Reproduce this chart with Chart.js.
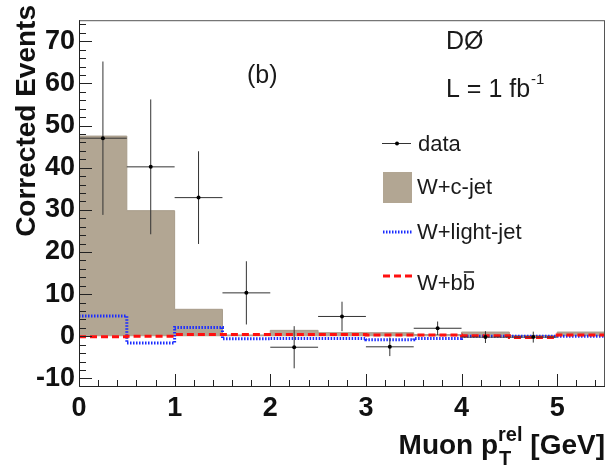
<!DOCTYPE html>
<html>
<head>
<meta charset="utf-8">
<script src="https://cdn.jsdelivr.net/npm/chart.js@4.4.1/dist/chart.umd.min.js"></script>
<style>
  html, body { margin: 0; padding: 0; background: #fff; }
  canvas { display: block; }
</style>
</head>
<body>
<canvas id="chart" width="609" height="467"></canvas>
<script>
// bin edges of the histograms (GeV)
const binEdges = [0, 0.5, 1, 1.5, 2, 2.5, 3, 3.5, 4, 4.5, 5, 5.5];

// histogram contents per bin
const wcJet    = [47.5, 29.8, 6.4, 0.3, 1.4, 0.85, 0.85, 0.4, 1.0, 0.2, 1.0];
const wLight   = [4.8, -1.6, 2.1, -0.6, -0.5, -0.5, -0.8, -0.5, 0.0, 0.0, 0.0];
const wbb      = [-0.1, 0.0, 0.4, 0.4, 0.4, 0.4, 0.3, 0.3, 0.1, -0.3, 0.3];

// data points with errors
const dataX    = [0.25, 0.75, 1.25, 1.75, 2.25, 2.75, 3.25, 3.75, 4.25, 4.75];
const dataY    = [47.0, 40.2, 32.9, 10.3, -2.6, 4.7, -2.5, 1.9, -0.2, -0.2];
const dataErr  = [18.2, 16.0, 11.0, 7.5, 5.0, 3.5, 2.2, 1.6, 1.4, 1.3];
const dataXErr = 0.25;

// axis ticks
const xTickValues = [0, 1, 2, 3, 4, 5];
const yTickValues = [-10, 0, 10, 20, 30, 40, 50, 60, 70];

const FONT = "'Liberation Sans', Arial, Helvetica, sans-serif";
const TAN = '#b2a693';
const BLUE = '#1a2cff';
const RED = '#ff1010';

// histogram as step points: left edge of each bin + last right edge
function stepPoints(vals) {
    const pts = vals.map((v, i) => ({ x: binEdges[i], y: v }));
    pts.push({ x: binEdges[vals.length], y: vals[vals.length - 1] });
    return pts;
}

// error bar segments, null breaks between points
function errorSegments() {
    const pts = [];
    dataX.forEach((x, i) => {
        const y = dataY[i], e = dataErr[i];
        pts.push({ x: x, y: y - e }, { x: x, y: y + e }, { x: x, y: null });
        pts.push({ x: x - dataXErr, y: y }, { x: x + dataXErr, y: y }, { x: x, y: null });
    });
    return pts;
}

// frame, inside ticks, titles, legend and labels in ROOT style
const rootStyle = {
    id: 'rootStyle',
    afterDatasetsDraw(chart) {
        const ctx = chart.ctx;
        const a = chart.chartArea;
        const xs = chart.scales.x, ys = chart.scales.y;
        ctx.save();

        // frame
        ctx.strokeStyle = '#555';
        ctx.lineWidth = 1;
        ctx.strokeRect(a.left + 0.5, a.top + 0.5, a.right - a.left - 1, a.bottom - a.top);
        ctx.strokeStyle = '#222';
        ctx.beginPath();
        ctx.moveTo(a.left + 0.5, a.top); ctx.lineTo(a.left + 0.5, a.bottom + 0.5);
        ctx.lineTo(a.right, a.bottom + 0.5);
        ctx.stroke();

        // x ticks (major 1, minor 0.2)
        ctx.beginPath();
        for (let i = 0; i <= 27; i++) {
            const v = i * 0.2;
            const px = Math.round(xs.getPixelForValue(v)) + 0.5;
            const len = (i % 5 === 0) ? 12 : 6;
            ctx.moveTo(px, a.bottom); ctx.lineTo(px, a.bottom - len);
        }
        // y ticks (major 10, minor 2)
        for (let v = -10; v <= 74; v += 2) {
            const py = Math.round(ys.getPixelForValue(v)) + 0.5;
            const len = (v % 10 === 0) ? 13 : 7;
            ctx.moveTo(a.left, py); ctx.lineTo(a.left + len, py);
        }
        ctx.stroke();

        ctx.fillStyle = '#111';
        // y title
        ctx.save();
        ctx.translate(35, 5);
        ctx.rotate(-Math.PI / 2);
        ctx.font = 'bold 28px ' + FONT;
        ctx.textAlign = 'right';
        ctx.textBaseline = 'alphabetic';
        ctx.fillText('Corrected Events', 0, 0);
        ctx.restore();

        // x title: Muon p_T^rel [GeV]
        ctx.textAlign = 'left';
        ctx.textBaseline = 'alphabetic';
        const big = 'bold 28px ' + FONT, small = 'bold 20px ' + FONT;
        ctx.font = big;
        const w1 = ctx.measureText('Muon p').width;
        const w3 = ctx.measureText(' [GeV]').width;
        ctx.font = small;
        const w2 = ctx.measureText('rel').width;
        let x0 = 605 - (w1 + w2 + w3);
        ctx.font = big;
        ctx.fillText('Muon p', x0, 454);
        ctx.font = small;
        ctx.fillText('rel', x0 + w1, 441);
        ctx.fillText('T', x0 + w1 + 1, 465);
        ctx.font = big;
        ctx.fillText(' [GeV]', x0 + w1 + w2, 454);

        // labels
        ctx.fillStyle = '#1a1a1a';
        ctx.font = '25px ' + FONT;
        ctx.textBaseline = 'middle';
        ctx.fillText('(b)', 247, 76);
        ctx.fillText('D\u00D8', 446, 42);
        ctx.textBaseline = 'alphabetic';
        ctx.fillText('L = 1 fb', 446, 97);
        const wl = ctx.measureText('L = 1 fb').width;
        ctx.font = '15px ' + FONT;
        ctx.fillText('-1', 446 + wl + 1, 84);

        // legend
        ctx.font = '22px ' + FONT;
        ctx.textBaseline = 'middle';
        // data
        ctx.strokeStyle = '#333';
        ctx.lineWidth = 1;
        ctx.beginPath(); ctx.moveTo(382, 143.5); ctx.lineTo(411, 143.5); ctx.stroke();
        ctx.fillStyle = '#000';
        ctx.beginPath(); ctx.arc(397, 143.5, 2, 0, Math.PI * 2); ctx.fill();
        ctx.fillStyle = '#1a1a1a';
        ctx.fillText('data', 418, 145);
        // W+c-jet
        ctx.fillStyle = TAN;
        ctx.fillRect(383, 172, 29, 31);
        ctx.fillStyle = '#1a1a1a';
        ctx.fillText('W+c-jet', 417, 188);
        // W+light-jet
        ctx.strokeStyle = BLUE;
        ctx.lineWidth = 3;
        ctx.setLineDash([1.5, 1.5]);
        ctx.beginPath(); ctx.moveTo(383, 232); ctx.lineTo(412, 232); ctx.stroke();
        ctx.fillText('W+light-jet', 417, 233);
        // W+bb
        ctx.strokeStyle = RED;
        ctx.setLineDash([7, 4]);
        ctx.beginPath(); ctx.moveTo(383, 276); ctx.lineTo(412, 276); ctx.stroke();
        ctx.setLineDash([]);
        ctx.fillText('W+b', 417, 284);
        const wb = ctx.measureText('W+b').width;
        ctx.fillText('b', 417 + wb, 284);
        const wb2 = ctx.measureText('b').width;
        ctx.strokeStyle = '#1a1a1a';
        ctx.lineWidth = 1.5;
        ctx.beginPath(); ctx.moveTo(417 + wb + 1, 272); ctx.lineTo(417 + wb + wb2 - 1, 272); ctx.stroke();

        ctx.restore();
    }
};

new Chart(document.getElementById('chart'), {
    type: 'line',
    data: {
        datasets: [
            {
                label: 'data',
                data: dataX.map((x, i) => ({ x: x, y: dataY[i] })),
                showLine: false,
                pointRadius: 2,
                pointBackgroundColor: '#000',
                pointBorderWidth: 0,
                order: 0,
            },
            {
                label: 'data errors',
                data: errorSegments(),
                borderColor: '#333',
                borderWidth: 1,
                pointRadius: 0,
                spanGaps: false,
                order: 1,
            },
            {
                label: 'W+bb',
                data: stepPoints(wbb),
                stepped: 'before',
                borderColor: RED,
                borderWidth: 3,
                borderDash: [7, 4],
                pointRadius: 0,
                order: 2,
            },
            {
                label: 'W+light-jet',
                data: stepPoints(wLight),
                stepped: 'before',
                borderColor: BLUE,
                borderWidth: 3,
                borderDash: [1.5, 1.5],
                pointRadius: 0,
                order: 3,
            },
            {
                label: 'W+c-jet',
                data: stepPoints(wcJet),
                stepped: 'before',
                borderColor: '#a89c8a',
                borderWidth: 1,
                backgroundColor: TAN,
                fill: 'origin',
                pointRadius: 0,
                order: 4,
            },
        ],
    },
    options: {
        responsive: false,
        animation: false,
        devicePixelRatio: 1,
        layout: { padding: { top: 14, right: 2, left: 0, bottom: 0 } },
        plugins: {
            legend: { display: false },
            tooltip: { enabled: false },
        },
        scales: {
            x: {
                type: 'linear',
                min: 0,
                max: 5.5,
                afterFit: (s) => { s.height = 81; },
                afterBuildTicks: (s) => { s.ticks = xTickValues.map(v => ({ value: v })); },
                grid: { display: false, drawTicks: false },
                border: { display: false },
                ticks: {
                    padding: 6,
                    color: '#111',
                    font: { family: FONT, size: 27, weight: 'bold' },
                    maxRotation: 0,
                },
            },
            y: {
                type: 'linear',
                min: -11.8,
                max: 75,
                afterFit: (s) => { s.width = 79; },
                afterBuildTicks: (s) => { s.ticks = yTickValues.map(v => ({ value: v })); },
                grid: { display: false, drawTicks: false },
                border: { display: false },
                ticks: {
                    padding: 4,
                    color: '#111',
                    font: { family: FONT, size: 27, weight: 'bold' },
                },
            },
        },
    },
    plugins: [rootStyle],
});
</script>
</body>
</html>
